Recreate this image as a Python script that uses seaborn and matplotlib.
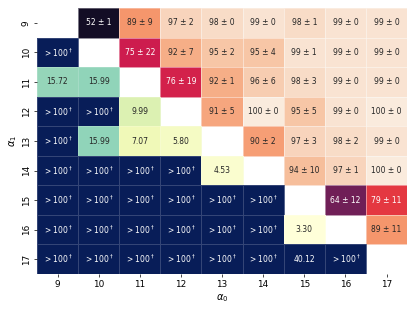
import numpy as np
import pandas as pd
import matplotlib
matplotlib.use("Agg")
import matplotlib.pyplot as plt
import seaborn as sns

alphas = [9, 10, 11, 12, 13, 14, 15, 16, 17]
INF = np.inf  # shown as "> 100†"

# upper triangle: mean / std (%), rows = alpha_1, cols = alpha_0
upper_mean = [
    [None, 52, 89, 97, 98, 99, 98, 99, 99],
    [None, None, 75, 92, 95, 95, 99, 99, 99],
    [None, None, None, 76, 92, 96, 98, 99, 99],
    [None, None, None, None, 91, 100, 95, 99, 100],
    [None, None, None, None, None, 90, 97, 98, 99],
    [None, None, None, None, None, None, 94, 97, 100],
    [None, None, None, None, None, None, None, 64, 79],
    [None, None, None, None, None, None, None, None, 89],
    [None, None, None, None, None, None, None, None, None],
]
upper_std = [
    [None, 1, 9, 2, 0, 0, 1, 0, 0],
    [None, None, 22, 7, 2, 4, 1, 0, 0],
    [None, None, None, 19, 1, 6, 3, 0, 0],
    [None, None, None, None, 5, 0, 5, 0, 0],
    [None, None, None, None, None, 2, 3, 2, 0],
    [None, None, None, None, None, None, 10, 1, 0],
    [None, None, None, None, None, None, None, 12, 11],
    [None, None, None, None, None, None, None, None, 11],
    [None, None, None, None, None, None, None, None, None],
]
# lower triangle values
lower_vals = [
    [None, None, None, None, None, None, None, None, None],
    [INF, None, None, None, None, None, None, None, None],
    [15.72, 15.99, None, None, None, None, None, None, None],
    [INF, INF, 9.99, None, None, None, None, None, None],
    [INF, 15.99, 7.07, 5.80, None, None, None, None, None],
    [INF, INF, INF, INF, 4.53, None, None, None, None],
    [INF, INF, INF, INF, INF, INF, None, None, None],
    [INF, INF, INF, INF, INF, INF, 3.30, None, None],
    [INF, INF, INF, INF, INF, INF, 40.12, INF, None],
]

up = pd.DataFrame(upper_mean, index=alphas, columns=alphas, dtype=float)
up_sd = pd.DataFrame(upper_std, index=alphas, columns=alphas, dtype=float)
lo = pd.DataFrame(lower_vals, index=alphas, columns=alphas, dtype=float)

up_lab = up.copy().astype(object)
lo_lab = lo.copy().astype(object)
for i in alphas:
    for j in alphas:
        m, s = up.loc[i, j], up_sd.loc[i, j]
        up_lab.loc[i, j] = "" if np.isnan(m) else f"{m:.0f} ± {s:.0f}"
        v = lo.loc[i, j]
        if np.isnan(v):
            lo_lab.loc[i, j] = ""
        elif np.isinf(v):
            lo_lab.loc[i, j] = r"$> 100^\dagger$"
        else:
            lo_lab.loc[i, j] = f"{v:.2f}"

fig = plt.figure(figsize=(4.15, 3.11), dpi=100)
ax = fig.add_axes([0.089, 0.119, 0.892, 0.855])

seam = dict(linewidths=0.4, linecolor=(1, 1, 1, 0.18))
sns.heatmap(up, mask=up.isna(), annot=up_lab.values, fmt="", cmap="rocket",
            vmin=49.5, vmax=100, cbar=False, ax=ax, annot_kws={"fontsize": 5.5}, **seam)
# light orange cells get dark text
for t in ax.texts:
    if t.get_text().startswith("89"):
        t.set_color(".15")
sns.heatmap(lo.clip(upper=1e6), mask=lo.isna(), annot=lo_lab.values, fmt="", cmap="YlGnBu",
            vmin=3.30, vmax=40.12, cbar=False, ax=ax, annot_kws={"fontsize": 5.5}, **seam)

ax.set_xlabel(r"$\alpha_0$", fontsize=7, labelpad=2)
ax.set_ylabel(r"$\alpha_1$", fontsize=7, labelpad=2)
ax.tick_params(labelsize=6.4, length=2.5, width=0.5, pad=2)

fig.savefig("out.png", dpi=100)
